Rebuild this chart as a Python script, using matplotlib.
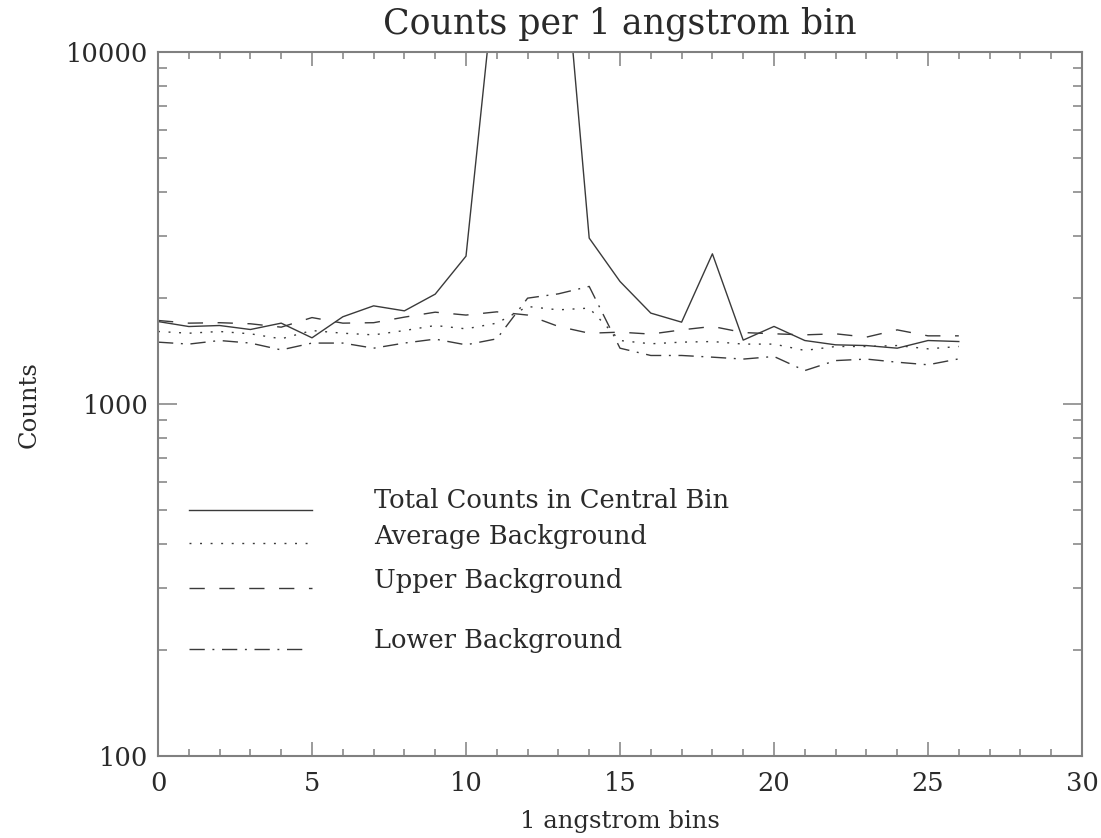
import matplotlib
matplotlib.use("Agg")
import matplotlib.pyplot as plt
from matplotlib.ticker import FixedLocator, FixedFormatter, LogLocator, NullFormatter, MultipleLocator
from matplotlib.lines import Line2D

# ---- data ----
bins = list(range(27))
total_counts = [1713, 1658, 1669, 1626, 1695, 1540, 1767, 1898, 1837, 2049, 2627,
                18200, 26000, 29800, 2956, 2226, 1810, 1706, 2667, 1517, 1659,
                1513, 1471, 1464, 1439, 1513, 1503]
average_bg = [1605, 1587, 1605, 1581, 1530, 1615, 1587, 1570, 1615, 1669, 1633,
              1695, 1890, 1849, 1870, 1513, 1481, 1497, 1503, 1478, 1478,
              1418, 1455, 1455, 1464, 1433, 1455]
upper_bg = [1725, 1695, 1700, 1688, 1651, 1758, 1695, 1700, 1763, 1821, 1787,
            1825, 1787, 1659, 1587, 1598, 1578, 1622, 1659, 1594, 1581,
            1570, 1581, 1547, 1622, 1560, 1560]
lower_bg = [1497, 1478, 1513, 1488, 1423, 1488, 1488, 1439, 1488, 1527, 1471,
            1530, 1996, 2053, 2155, 1439, 1372, 1372, 1357, 1340, 1363,
            1243, 1327, 1340, 1313, 1291, 1342]

labels = ["Total Counts in Central Bin", "Average Background",
          "Upper Background", "Lower Background"]
title = "Counts per 1 angstrom bin"
xlabel = "1 angstrom bins"
ylabel = "Counts"
ytick_vals = [100, 1000, 10000]
ytick_labels = ["100", "1000", "10000"]
xtick_vals = [0, 5, 10, 15, 20, 25, 30]

# ---- style ----
FONT = "DejaVu Serif"
TXT = "#2a2a2a"
LINEC = "#3a3a3a"
AXC = "#808080"
plt.rcParams["font.family"] = FONT

W, H = 1101, 838
fig = plt.figure(figsize=(W / 100, H / 100), dpi=100)
ax_l, ax_r, ax_t, ax_b = 158, 1082, 51.7, 756
ax = fig.add_axes([ax_l / W, 1 - ax_b / H, (ax_r - ax_l) / W, (ax_b - ax_t) / H])

styles = [
    dict(linestyle="-"),
    dict(linestyle=(0, (1.4, 6.2))),
    dict(linestyle=(0, (11, 10.5))),
    dict(linestyle=(0, (11, 5.5, 1.4, 5.5))),
]
series = [total_counts, average_bg, upper_bg, lower_bg]
for s, st in zip(series, styles):
    ax.plot(bins, s, color=LINEC, linewidth=1.0, **st)

ax.set_yscale("log")
ax.set_xlim(0, 30)
ax.set_ylim(100, 10000)

ax.yaxis.set_major_locator(FixedLocator(ytick_vals))
ax.yaxis.set_major_formatter(FixedFormatter(ytick_labels))
ax.yaxis.set_minor_locator(LogLocator(base=10, subs=range(2, 10)))
ax.yaxis.set_minor_formatter(NullFormatter())
ax.xaxis.set_major_locator(FixedLocator(xtick_vals))
ax.xaxis.set_minor_locator(MultipleLocator(1))

for sp in ax.spines.values():
    sp.set_color(AXC)
    sp.set_linewidth(1.5)

ax.tick_params(axis="both", which="both", direction="in", top=True, right=True,
               color=AXC, width=1.1, labelcolor=TXT, labelsize=18.5)
ax.tick_params(axis="x", which="major", length=10, pad=11)
ax.tick_params(axis="x", which="minor", length=5)
ax.tick_params(axis="y", which="major", length=13.5, pad=7)
ax.tick_params(axis="y", which="minor", length=6.5)

# titles / labels
fig.text(620 / W, 1 - 24 / H, title, ha="center", va="center", fontsize=25, color=TXT)
fig.text(620 / W, 1 - 821 / H, xlabel, ha="center", va="center", fontsize=17.5, color=TXT)
fig.text(29 / W, 1 - 405 / H, ylabel, ha="center", va="center", rotation=90,
         fontsize=17.5, color=TXT)

# legend drawn IDL-style inside the axes
leg_line_y = [0.3493, 0.302, 0.239, 0.1515]
leg_line_x1 = [0.1667, 0.1667, 0.1667, 0.160]
leg_text_y = [0.352, 0.301, 0.2385, 0.1533]
for lab, st, ly, lx1, ty in zip(labels, styles, leg_line_y, leg_line_x1, leg_text_y):
    ax.add_line(Line2D([0.0335, lx1], [ly, ly], transform=ax.transAxes,
                       color=LINEC, linewidth=1.0, **st))
    ax.text(0.2338, ty, lab, transform=ax.transAxes, ha="left", va="baseline",
            fontsize=18.5, color=TXT)

fig.savefig("out.png", dpi=100, facecolor="white")
